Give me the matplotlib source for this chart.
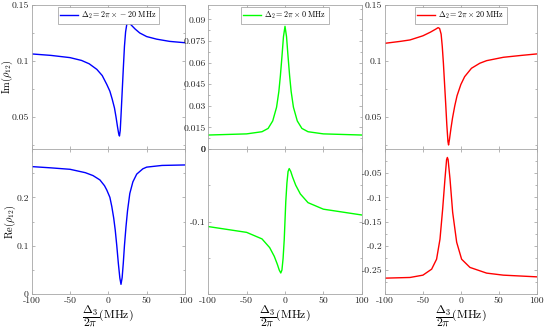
import matplotlib
matplotlib.use('Agg')
import matplotlib.pyplot as plt
from matplotlib.ticker import FixedLocator, MultipleLocator, FuncFormatter

plt.rcParams['font.family'] = 'serif'
plt.rcParams['font.serif'] = ['cmr10', 'DejaVu Serif']
plt.rcParams['mathtext.fontset'] = 'cm'
plt.rcParams['axes.unicode_minus'] = False

# detuning Delta_2 / 2pi for each column (MHz)
delta2 = [-20, 0, 20]
colors = ['#0000ff', '#00ff00', '#ff0000']

# column 1: Delta_2 = -20 MHz
x_im_m20 = [-100, -75, -50, -35, -25, -15, -8, -2, 2, 5, 8, 10, 12, 13.5, 14.5,
            15.5, 16.5, 18, 19.5, 21, 22.5, 24, 25.5, 27, 30, 35, 41, 50, 63, 80, 100]
im_m20 = [0.1063, 0.1050, 0.1030, 0.1005, 0.0975, 0.0925, 0.087, 0.079, 0.073, 0.066,
          0.058, 0.050, 0.041, 0.035, 0.033, 0.038, 0.051, 0.072, 0.093, 0.113, 0.126,
          0.1325, 0.1345, 0.1343, 0.132, 0.1285, 0.1250, 0.1218, 0.1195, 0.1175, 0.1163]
x_re_m20 = [-100, -75, -50, -30, -20, -11, -5, -2, 2, 4.5, 7, 9, 11, 13, 15, 16.5,
            18, 19.5, 21, 23, 25, 28, 32, 37, 45, 50, 70, 100]
re_m20 = [0.2636, 0.261, 0.258, 0.251, 0.245, 0.236, 0.224, 0.215, 0.200, 0.181,
          0.157, 0.132, 0.100, 0.064, 0.033, 0.020, 0.034, 0.064, 0.100, 0.139,
          0.172, 0.208, 0.232, 0.248, 0.259, 0.2625, 0.266, 0.267]

# column 2: Delta_2 = 0 MHz
x_im_0 = [-100, -50, -30, -22, -16, -11, -8, -6, -4, -2, 0, 2, 4, 6, 8, 11, 16, 22, 30, 50, 100]
im_0 = [0.0097, 0.0105, 0.0120, 0.0143, 0.0195, 0.029, 0.040, 0.051, 0.064, 0.078, 0.0852,
        0.078, 0.064, 0.051, 0.040, 0.029, 0.0195, 0.0143, 0.0120, 0.0105, 0.0097]
x_re_0 = [-100, -50, -30, -20, -14, -10, -7.5, -5.5, -4, -2.5, -1, 0, 1, 2.5, 4, 5.5,
          7.5, 10, 14, 20, 30, 50, 100]
re_0 = [-0.107, -0.115, -0.124, -0.136, -0.148, -0.159, -0.167, -0.171, -0.167, -0.151,
        -0.125, -0.099, -0.073, -0.047, -0.031, -0.027, -0.031, -0.039, -0.050, -0.062,
        -0.074, -0.083, -0.091]

# column 3: Delta_2 = +20 MHz
x_im_p20 = [-100, -80, -67, -50, -40, -33, -30, -28, -26, -24.5, -23, -21.5, -20, -18.5,
            -17, -16.2, -15, -13, -11, -8, -5, 0, 5, 14, 25, 34, 56, 80, 100]
im_p20 = [0.1158, 0.1175, 0.1188, 0.1225, 0.1258, 0.1285, 0.1298, 0.1290, 0.1240, 0.113,
          0.098, 0.080, 0.062, 0.043, 0.028, 0.025, 0.030, 0.040, 0.049, 0.060, 0.069,
          0.079, 0.086, 0.0935, 0.098, 0.1003, 0.1033, 0.105, 0.1063]
x_re_p20 = [-100, -67, -50, -38.5, -32, -27.5, -24, -21, -19.5, -18.8, -17.8, -16.8, -16,
            -14.3, -10.8, -5.5, 1, 12, 34, 56, 100]
re_p20 = [-0.2672, -0.2658, -0.261, -0.2486, -0.228, -0.1865, -0.1245, -0.063, -0.035,
          -0.022, -0.0175, -0.022, -0.035, -0.062, -0.131, -0.193, -0.228, -0.245,
          -0.2568, -0.261, -0.2645]

im_data = [(x_im_m20, im_m20), (x_im_0, im_0), (x_im_p20, im_p20)]
re_data = [(x_re_m20, re_m20), (x_re_0, re_0), (x_re_p20, re_p20)]

im_ylims = [(0.0214, 0.15), (0, 0.1), (0.0214, 0.15)]
im_ticks = [[0.05, 0.1, 0.15], [0, 0.015, 0.03, 0.045, 0.06, 0.075, 0.09], [0.05, 0.1, 0.15]]
im_minor = [0.025, 0.0075, 0.025]
re_ylims = [(0, 0.3), (-0.2, 0), (-0.3, 0)]
re_ticks = [[0, 0.1, 0.2], [-0.1, 0], [-0.25, -0.2, -0.15, -0.1, -0.05]]
re_minor = [0.05, 0.05, 0.025]
x_ticks = [-100, -50, 0, 50, 100]

fig = plt.figure(figsize=(5.45, 3.28), dpi=100)
lefts = [31.7 / 545, 208.3 / 545, 385 / 545]
widths = [153.3 / 545, 153.4 / 545, 151.7 / 545]
top_b, top_h = (328 - 149) / 328, 144 / 328
bot_b, bot_h = (328 - 294) / 328, 145 / 328

fmt = FuncFormatter(lambda v, p: f'{v:g}')


def style(ax):
    for s in ax.spines.values():
        s.set_color('0.65')
        s.set_linewidth(0.6)
    ax.tick_params(which='both', direction='in', top=True, right=True,
                   color='0.6', width=0.5, labelsize=7, labelcolor='0.15', pad=2)
    ax.tick_params(which='major', length=2.5)
    ax.tick_params(which='minor', length=1.5)
    ax.set_xlim(-100, 100)
    ax.xaxis.set_major_locator(FixedLocator(x_ticks))
    ax.xaxis.set_major_formatter(fmt)
    ax.yaxis.set_major_formatter(fmt)


for i in range(3):
    ax_t = fig.add_axes([lefts[i], top_b, widths[i], top_h])
    ax_b = fig.add_axes([lefts[i], bot_b, widths[i], bot_h])
    for ax in (ax_t, ax_b):
        style(ax)

    ax_t.plot(im_data[i][0], im_data[i][1], color=colors[i], lw=1.0,
              label=r'$\Delta_2 = 2\pi\times%d\ \mathrm{MHz}$' % delta2[i])
    ax_t.set_ylim(*im_ylims[i])
    ax_t.yaxis.set_major_locator(FixedLocator(im_ticks[i]))
    ax_t.yaxis.set_minor_locator(MultipleLocator(im_minor[i]))
    ax_t.tick_params(labelbottom=False)
    leg = ax_t.legend(loc='upper center', fontsize=5.8, handlelength=2.2,
                      borderaxespad=0.3, borderpad=0.3, handletextpad=0.4,
                      fancybox=False, framealpha=1)
    leg.get_frame().set_edgecolor('0.6')
    leg.get_frame().set_linewidth(0.5)

    ax_b.plot(re_data[i][0], re_data[i][1], color=colors[i], lw=1.0)
    ax_b.set_ylim(*re_ylims[i])
    ax_b.yaxis.set_major_locator(FixedLocator(re_ticks[i]))
    ax_b.yaxis.set_minor_locator(MultipleLocator(re_minor[i]))
    ax_b.set_xlabel(r'$\dfrac{\Delta_3}{2\pi}(\mathrm{MHz})$', fontsize=8.5, labelpad=-1)

    if i == 0:
        ax_t.set_ylabel(r'$\mathrm{Im}(\rho_{12})$', fontsize=7.5, va='center')
        ax_t.yaxis.set_label_coords(-0.16, 0.5)
        ax_b.set_ylabel(r'$\mathrm{Re}(\rho_{12})$', fontsize=7.5, va='center')
        ax_b.yaxis.set_label_coords(-0.14, 0.5)

fig.savefig('out.png', dpi=100)
